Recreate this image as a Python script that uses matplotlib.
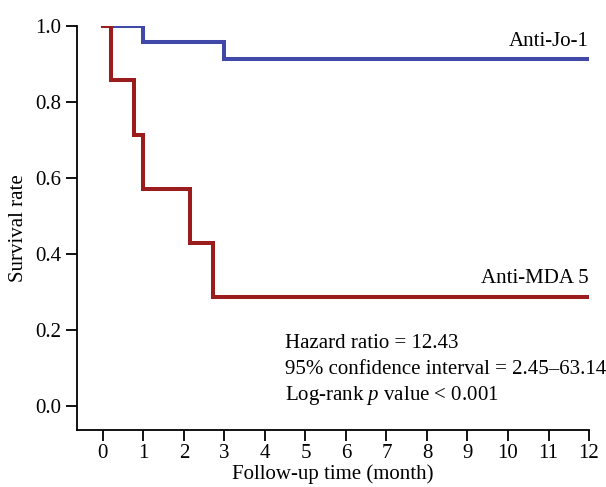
import matplotlib
matplotlib.use("Agg")
import matplotlib.pyplot as plt

# Kaplan-Meier step data
jo1_time = [0, 1.0, 3.0, 12]
jo1_surv = [1.0, 0.957, 0.913, 0.913]
mda5_time = [0, 0.2, 0.78, 0.98, 2.15, 2.72, 12]
mda5_surv = [1.0, 0.857, 0.714, 0.571, 0.429, 0.286, 0.286]

x_ticks = list(range(0, 13))
y_ticks = [0.0, 0.2, 0.4, 0.6, 0.8, 1.0]

stats_lines = [
    "Hazard ratio = 12.43",
    "95% confidence interval = 2.45\u201363.14",
    "Log-rank $p$ value < 0.001",
]

plt.rcParams["font.family"] = ["Liberation Serif", "DejaVu Serif"]
plt.rcParams["mathtext.fontset"] = "custom"
plt.rcParams["mathtext.it"] = "Liberation Serif:italic"
plt.rcParams["font.size"] = 15

fig = plt.figure(figsize=(6.06, 4.87), dpi=100)
ax = fig.add_axes([0.127, 0.117, 0.845, 0.830])

ax.step(jo1_time, jo1_surv, where="post", color="#4048a8", lw=2.9,
        solid_joinstyle="miter")
ax.step(mda5_time, mda5_surv, where="post", color="#9a1c1c", lw=2.9,
        solid_joinstyle="miter")

ax.set_xlim(-0.64, 12)
ax.set_ylim(-0.063, 1.0)
ax.set_xticks(x_ticks)
ax.set_yticks(y_ticks)
ax.set_yticklabels([f"{v:.1f}" for v in y_ticks])

for side in ["top", "right"]:
    ax.spines[side].set_visible(False)
for side in ["left", "bottom"]:
    ax.spines[side].set_linewidth(1.3)
ax.tick_params(direction="out", length=8, width=1.3, labelsize=15)
ax.tick_params(axis="x", pad=2)

ax.text(12, 0.935, "Anti-Jo-1", ha="right", va="bottom", fontsize=15)
ax.text(12, 0.31, "Anti-MDA 5", ha="right", va="bottom", fontsize=15)

for i, line in enumerate(stats_lines):
    ax.text(4.5, 0.165 - i * 0.068, line, ha="left", va="center", fontsize=15)

ax.set_xlabel("Follow-up time (month)", fontsize=15, labelpad=1)
ax.set_ylabel("Survival rate", fontsize=15, labelpad=5)

fig.savefig("out.png", dpi=100)
